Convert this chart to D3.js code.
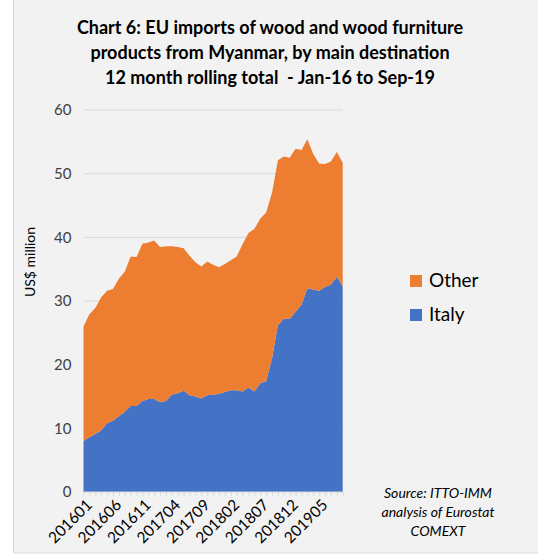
<!DOCTYPE html>
<html>
<head>
<meta charset="utf-8">
<script src="https://cdn.jsdelivr.net/npm/d3@7"></script>
<style>
  body { margin: 0; background: #fff; }
  svg { display: block; font-family: Lato, "Open Sans", sans-serif; }
</style>
</head>
<body>
<svg id="chart" width="538" height="555"></svg>
<script>
// monthly periods, Jan-16 .. Sep-19
const months = d3.range(45).map(i => {
  const y = 2016 + Math.floor(i / 12), m = (i % 12) + 1
  return `${y}${m < 10 ? "0" + m : m}`
})
const tickLabels = ["201601", "201606", "201611", "201704", "201709", "201802", "201807", "201812", "201905"]
const seriesNames = ["Italy", "Other"]

// US$ million, 12 month rolling total
const italy = [8.0, 8.6, 9.1, 9.7, 10.8, 11.2, 11.9, 12.6, 13.5, 13.5, 14.3, 14.6, 14.6, 14.1, 14.3,
  15.3, 15.5, 15.9, 15.2, 15.0, 14.7, 15.2, 15.3, 15.4, 15.7, 16.0, 16.0, 15.8, 16.4, 15.8,
  17.1, 17.4, 21.0, 26.2, 27.2, 27.2, 28.3, 29.4, 32.0, 31.8, 31.6, 32.2, 32.6, 33.8, 32.3]
const other = [18.0, 19.3, 19.8, 20.9, 20.8, 20.7, 21.6, 22.0, 23.5, 23.4, 24.7, 24.6, 24.9, 24.4, 24.3,
  23.3, 23.0, 22.4, 21.9, 21.1, 20.7, 21.0, 20.4, 19.9, 20.1, 20.4, 21.0, 23.1, 24.3, 25.5,
  25.8, 26.5, 26.0, 25.9, 25.5, 25.3, 25.6, 24.3, 23.4, 21.3, 20.0, 19.3, 19.3, 19.6, 19.4]
const yTicks = [0, 10, 20, 30, 40, 50, 60]

const colors = { Italy: "#4472C4", Other: "#ED7D31" }

const svg = d3.select("#chart")

// chart area background
svg.append("rect")
  .attr("x", 13.5).attr("y", -1)
  .attr("width", 530).attr("height", 554)
  .attr("fill", "#f2f2f2")
  .attr("stroke", "#d9d9d9")

// title
const title = ["Chart 6: EU imports of wood and wood furniture",
  "products from Myanmar, by main destination",
  "12 month rolling total  - Jan-16 to Sep-19"]
svg.append("g").selectAll("text")
  .data(title)
  .join("text")
    .attr("x", 270)
    .attr("y", (d, i) => 34 + i * 25)
    .attr("text-anchor", "middle")
    .attr("font-size", 18)
    .attr("font-weight", "bold")
    .attr("fill", "#000")
    .style("white-space", "pre")
    .text(d => d)

const margin = { left: 83.5, right: 342.7, top: 110, bottom: 492 }

const x = d3.scalePoint()
  .domain(months)
  .range([margin.left, margin.right])

const y = d3.scaleLinear()
  .domain([0, 60])
  .range([margin.bottom, margin.top])

// gridlines
svg.append("g").selectAll("line")
  .data(yTicks.filter(d => d > 0))
  .join("line")
    .attr("x1", margin.left).attr("x2", margin.right)
    .attr("y1", d => y(d)).attr("y2", d => y(d))
    .attr("stroke", "#d9d9d9")
    .attr("stroke-width", 1)

// stack
const table = months.map((m, i) => ({ month: m, Italy: italy[i], Other: other[i] }))
const stacked = d3.stack().keys(seriesNames)(table)

const area = d3.area()
  .x(d => x(d.data.month))
  .y0(d => y(d[0]))
  .y1(d => y(d[1]))

svg.append("g").selectAll("path")
  .data(stacked)
  .join("path")
    .attr("d", area)
    .attr("fill", d => colors[d.key])

// y axis labels
const yAxis = d3.axisLeft(y).tickValues(yTicks).tickSize(0).tickPadding(12)
svg.append("g")
  .attr("transform", `translate(${margin.left},0)`)
  .call(yAxis)
  .call(g => g.select(".domain").remove())
  .call(g => g.selectAll("text")
    .attr("font-size", 15)
    .attr("font-family", "Lato, sans-serif")
    .attr("fill", "#404040"))

// x axis: month ticks, labels every 5 months
const xAxis = d3.axisBottom(x).tickSize(4).tickFormat(d => tickLabels.includes(d) ? d : "")
svg.append("g")
  .attr("transform", `translate(0,${margin.bottom})`)
  .call(xAxis)
  .call(g => g.select(".domain").attr("stroke", "#d9d9d9").attr("d", `M${margin.left},0H${margin.right}`))
  .call(g => g.selectAll(".tick line").attr("stroke", "#d9d9d9"))
  .call(g => g.selectAll("text")
    .attr("font-size", 15.5)
    .attr("font-family", "Lato, sans-serif")
    .attr("fill", "#000")
    .attr("text-anchor", "end")
    .attr("x", 0).attr("y", 0).attr("dy", 0)
    .attr("transform", "translate(9,14) rotate(-45)"))

// y axis title
svg.append("text")
  .attr("transform", "translate(35,262) rotate(-90)")
  .attr("text-anchor", "middle")
  .attr("font-size", 14)
  .attr("fill", "#000")
  .text("US$ million")

// legend
const legend = svg.append("g").selectAll("g")
  .data(["Other", "Italy"])
  .join("g")
    .attr("transform", (d, i) => `translate(410,${275 + i * 34})`)
legend.append("rect")
  .attr("width", 12).attr("height", 12)
  .attr("fill", d => colors[d])
legend.append("text")
  .attr("x", 19).attr("y", 12)
  .attr("font-size", 19)
  .attr("fill", "#000")
  .text(d => d)

// source note
svg.append("g").selectAll("text")
  .data(["Source: ITTO-IMM", "analysis of Eurostat", "COMEXT"])
  .join("text")
    .attr("x", 438)
    .attr("y", (d, i) => 498 + i * 19)
    .attr("text-anchor", "middle")
    .attr("font-size", 14)
    .attr("font-style", "italic")
    .attr("fill", "#000")
    .text(d => d)
</script>
</body>
</html>
